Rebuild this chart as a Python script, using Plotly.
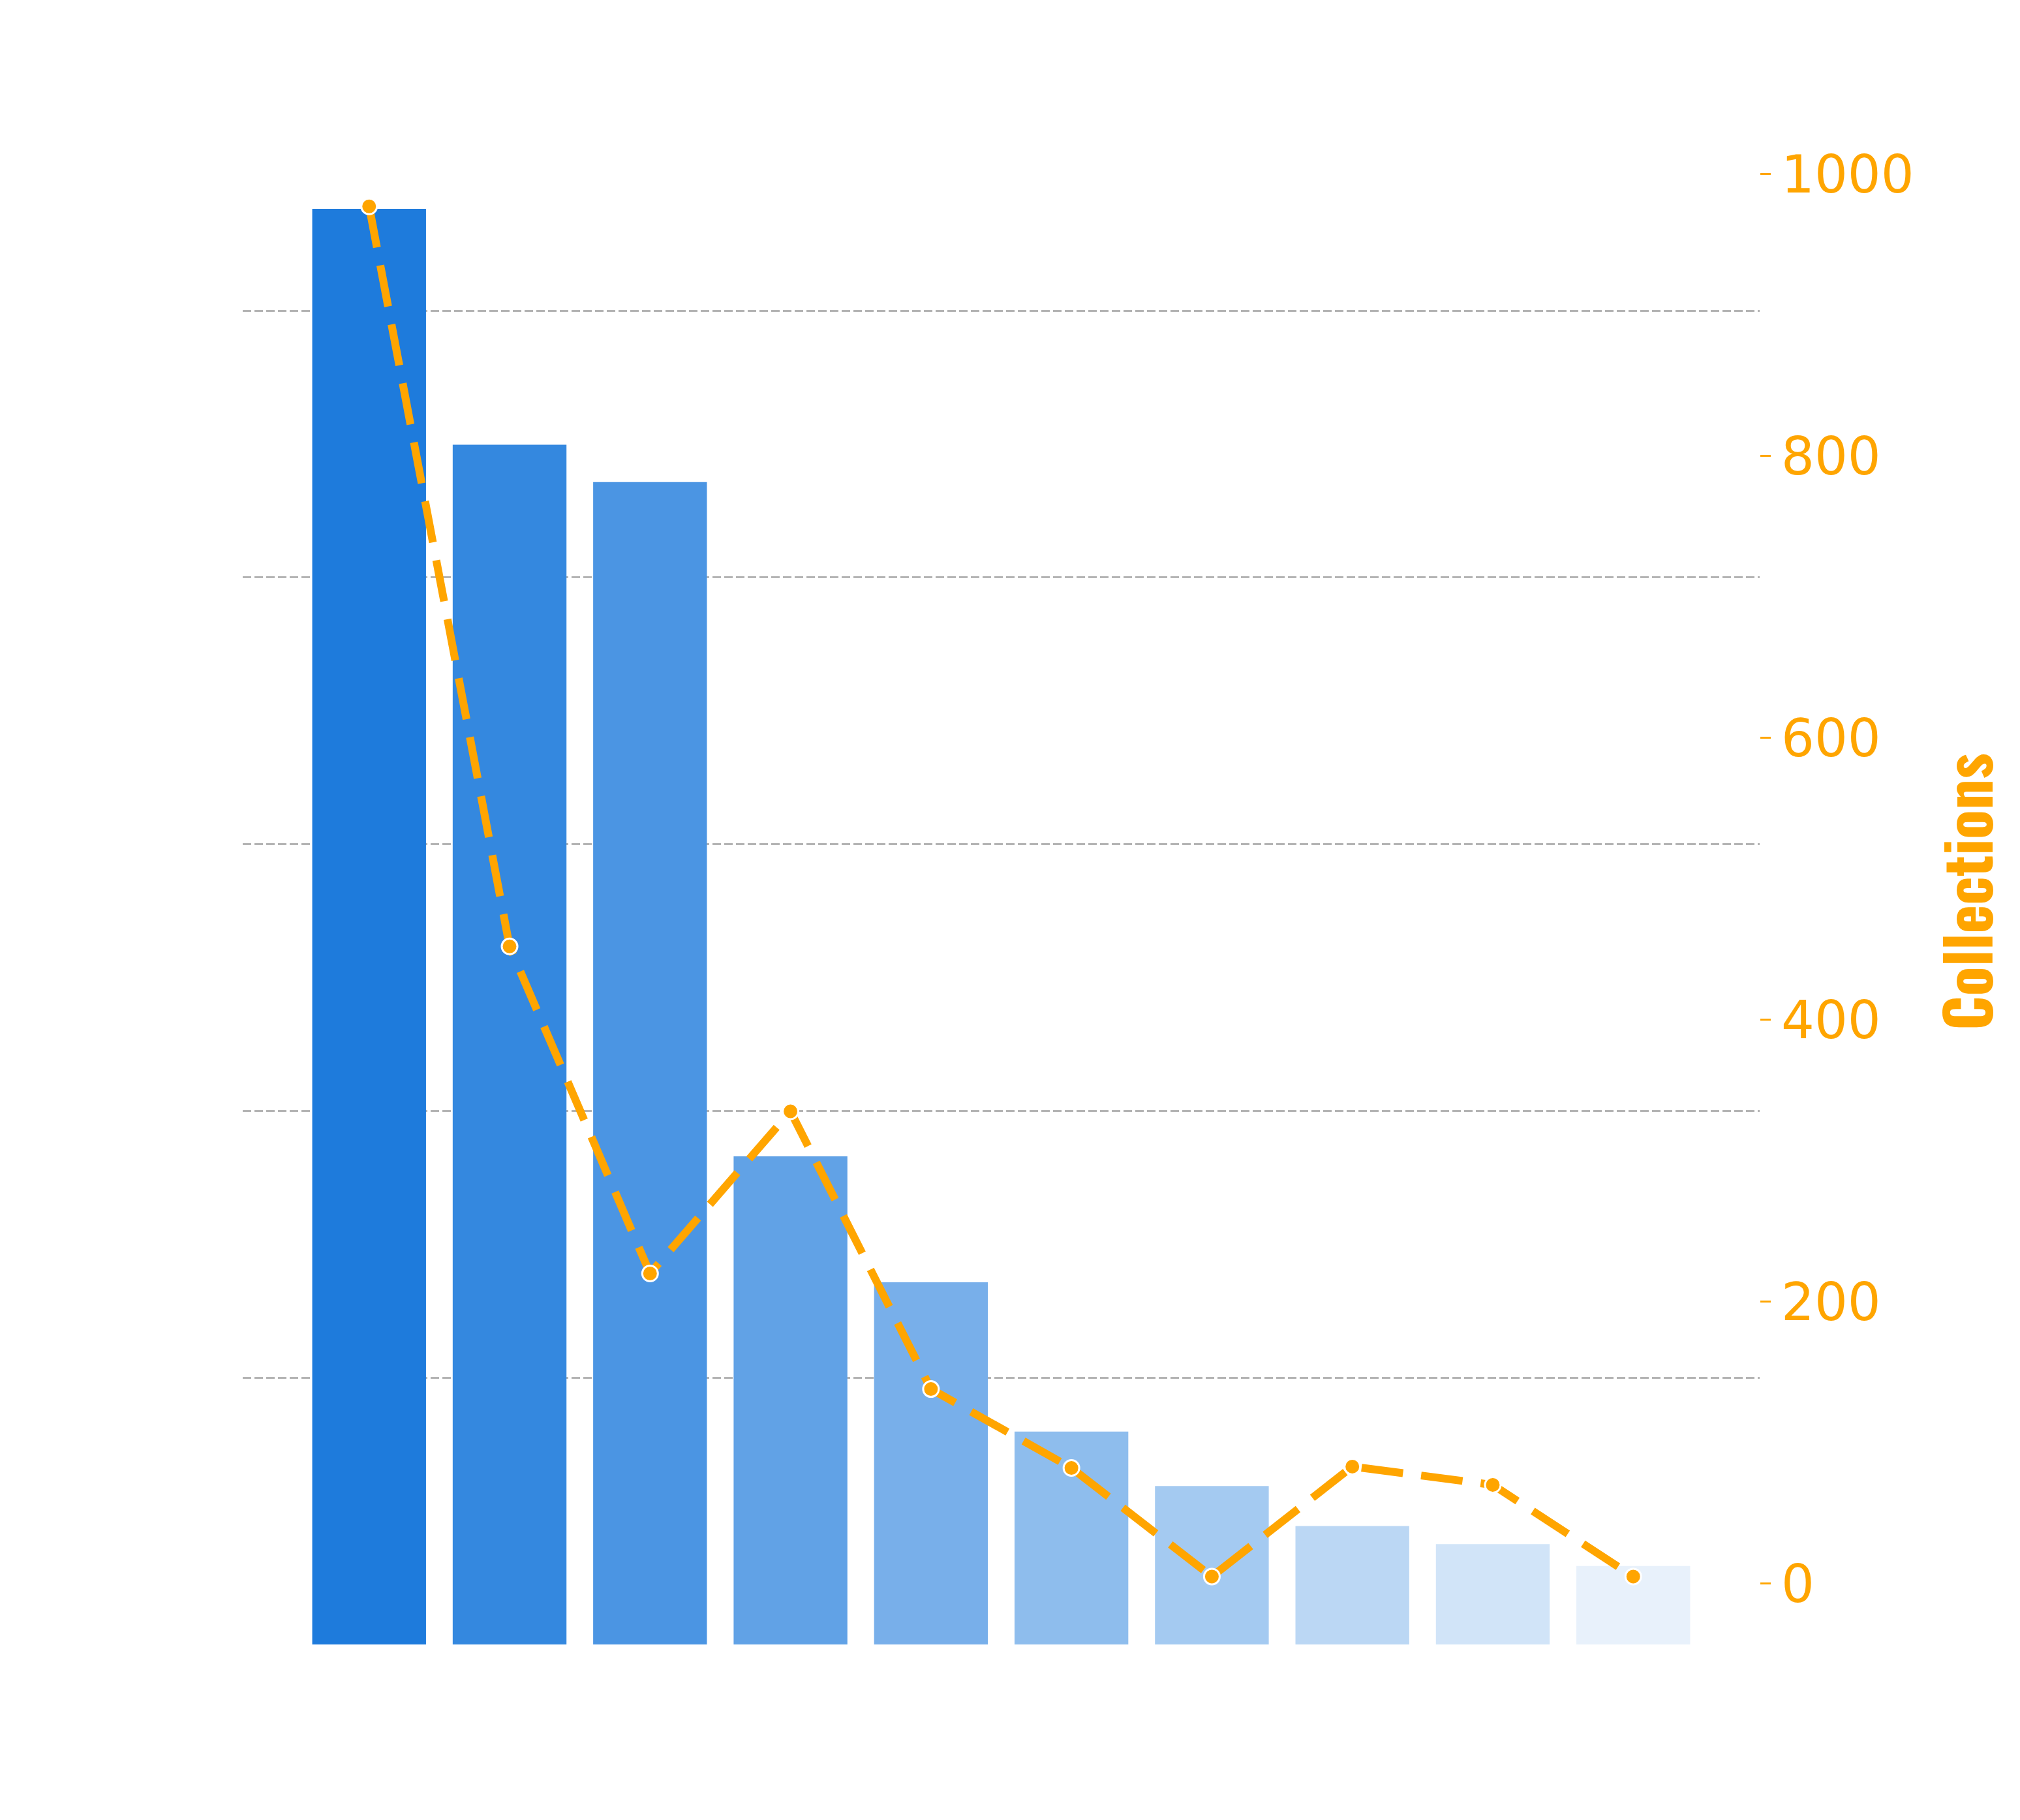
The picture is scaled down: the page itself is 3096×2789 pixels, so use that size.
import plotly.graph_objects as go

# ---- data ----
categories = ["1", "2", "3", "4", "5", "6", "7", "8", "9", "10"]
proportion = [0.2691, 0.2249, 0.2179, 0.0915, 0.0679, 0.0399, 0.0297, 0.0222, 0.0188, 0.0147]
collections = [977, 452, 220, 335, 138, 82, 5, 83, 70, 5]

chart_title = "Genre Distribution and Collections"
x_title = "Genres"
y_title = "Probability"
y2_title = "Collections"

# ---- style ----
bar_colors = ["#1e7bdc", "#3488df", "#4b95e3", "#61a2e6", "#78afea",
              "#8ebded", "#a4caf1", "#bbd7f4", "#d1e4f8", "#e8f1fb"]
ORANGE = "#FFA500"
GRID = "#b4b4b4"
FONT = "DejaVu Sans"

fig = go.Figure()
fig.add_trace(go.Bar(
    x=categories, y=proportion, marker=dict(color=bar_colors, line=dict(width=0)),
    name=y_title, yaxis="y", showlegend=False,
))
fig.add_trace(go.Scatter(
    x=categories, y=collections, mode="lines+markers", yaxis="y2",
    line=dict(color=ORANGE, width=12, dash="64px,28px"),
    marker=dict(size=24, color=ORANGE, line=dict(color="white", width=3)),
    name=y2_title, showlegend=False,
))

W, H = 3096, 2789
L, R, T, B = 372, 3096 - 2697, 213, 2789 - 2520

fig.update_layout(
    width=W, height=H,
    margin=dict(l=L, r=R, t=T, b=B, autoexpand=False),
    paper_bgcolor="white", plot_bgcolor="white",
    font=dict(family=FONT, color="white", size=80),
    bargap=0.19,
    title=dict(text=chart_title, x=0.2, xanchor="left", xref="paper",
               y=1 - 90 / H, yanchor="middle", yref="container",
               font=dict(size=62, color="white", family=FONT)),
    xaxis=dict(
        type="category", range=[-0.9, 9.9], showgrid=False, showline=False,
        zeroline=False, ticks="", tickfont=dict(size=80, color="white"),
        title=dict(text=x_title, font=dict(size=75, color="white"), standoff=30),
        automargin=False,
    ),
    yaxis=dict(
        range=[0, 0.2822], dtick=0.05, tick0=0, tickformat=".2f",
        showgrid=True, gridcolor=GRID, gridwidth=3, griddash="13px,5px",
        zeroline=False, showline=False, ticks="",
        tickfont=dict(size=80, color="white"),
        title=dict(text=y_title, font=dict(size=70, color="white"), standoff=40),
        automargin=False,
    ),
    yaxis2=dict(
        overlaying="y", side="right", range=[-43.2, 1024.8], dtick=200, tick0=0,
        showgrid=False, zeroline=False, showline=False,
        ticks="outside", ticklen=16, tickwidth=3, tickcolor=ORANGE,
        tickfont=dict(size=80, color=ORANGE, family=FONT),
        title=dict(text=y2_title, standoff=56,
                   font=dict(size=93, color=ORANGE,
                             family="Oswald, Anton, Impact, DejaVu Sans",
                             weight="bold")),
        automargin=False,
    ),
)

fig.write_html("out.html")
